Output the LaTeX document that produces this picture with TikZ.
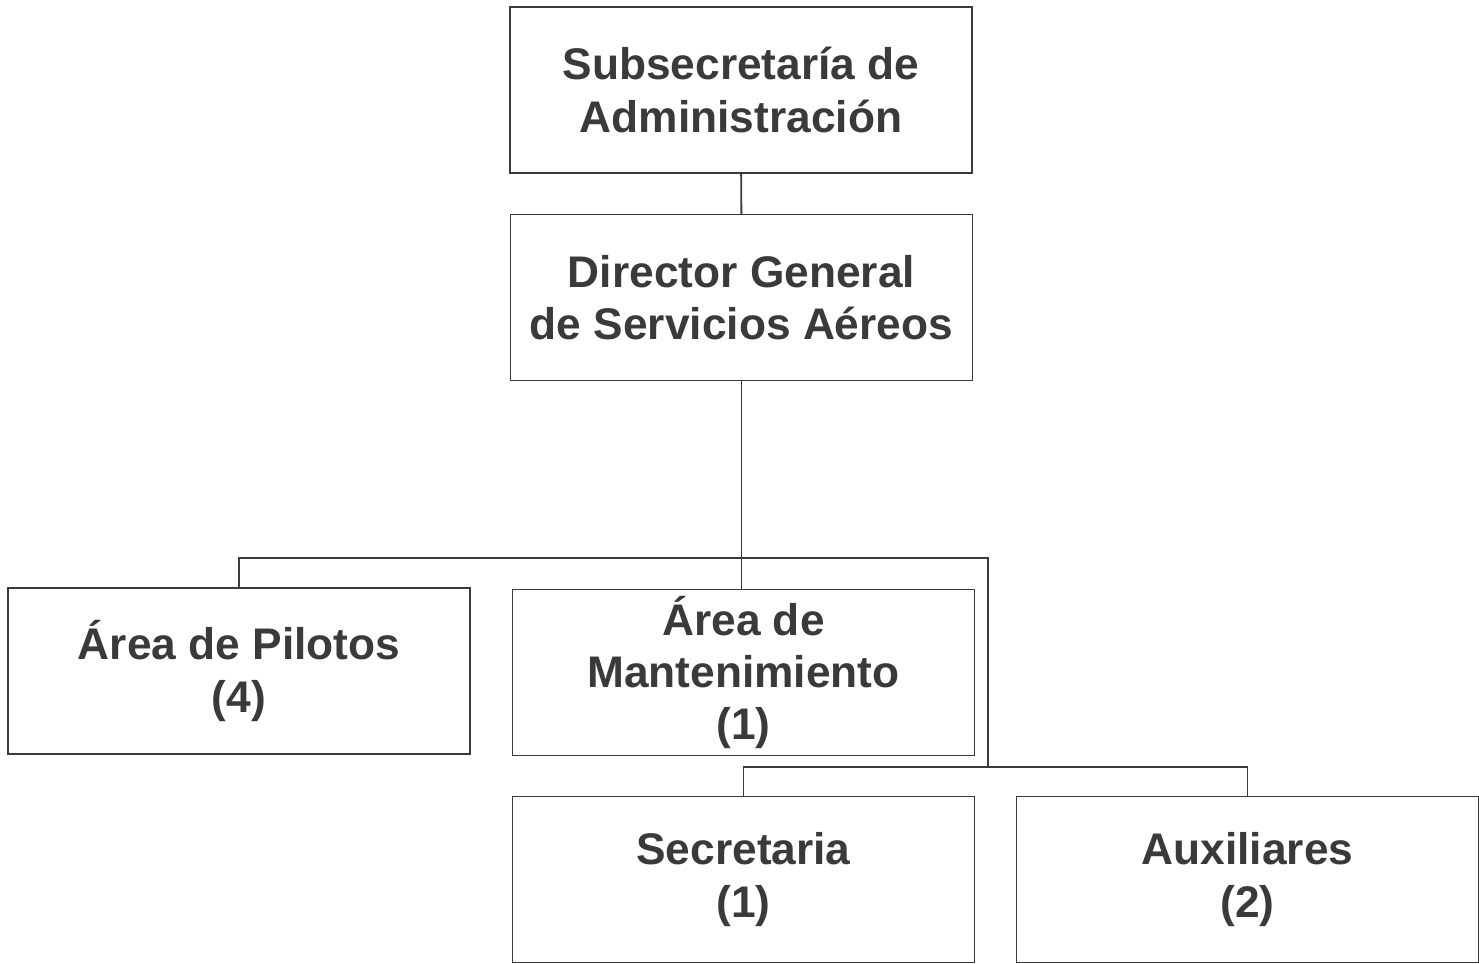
\documentclass[tikz,border=0pt]{standalone}
\usepackage{fontspec}
\setmainfont{Liberation Sans}
\usepackage{tikz}
\usetikzlibrary{positioning}
\definecolor{inkgray}{HTML}{3A3A3A}

\begin{document}
\begin{tikzpicture}[
  orgbox/.style={draw=inkgray, line width=1.1pt, minimum width=9.24cm, minimum height=3.32cm,
    inner sep=0pt, outer sep=0pt, align=center, text=inkgray,
    font=\bfseries\fontsize{25.2}{29.8}\selectfont},
  link/.style={draw=inkgray, line width=1.1pt}
]
\useasboundingbox (0,0) rectangle (29.58,-19.28);

\node[orgbox] at (14.82,-1.80)  (subsec) {Subsecretaría de\\Administración};
\node[orgbox] at (14.83,-5.95)  (dirgen) {Director General\\de Servicios Aéreos};
\node[orgbox] at (4.78,-13.42)  (pilotos) {Área de Pilotos\\(4)};
\node[orgbox] at (14.87,-13.45) (manten) {Área de\\Mantenimiento\\(1)};
\node[orgbox] at (14.87,-17.59) (secret) {Secretaria\\(1)};
\node[orgbox] at (24.95,-17.59) (auxil) {Auxiliares\\(2)};

\coordinate (busA) at (19.76,-11.16);
\coordinate (busB) at (auxil.north |- 0,-15.34);

\draw[link] (subsec) -- (dirgen);
\draw[link] (dirgen.south) -- (dirgen.south |- manten.north);
\draw[link] (pilotos.north) |- (busA) |- (busB);
\draw[link] (secret.north) |- (busB) -- (auxil.north);

\end{tikzpicture}
\end{document}
